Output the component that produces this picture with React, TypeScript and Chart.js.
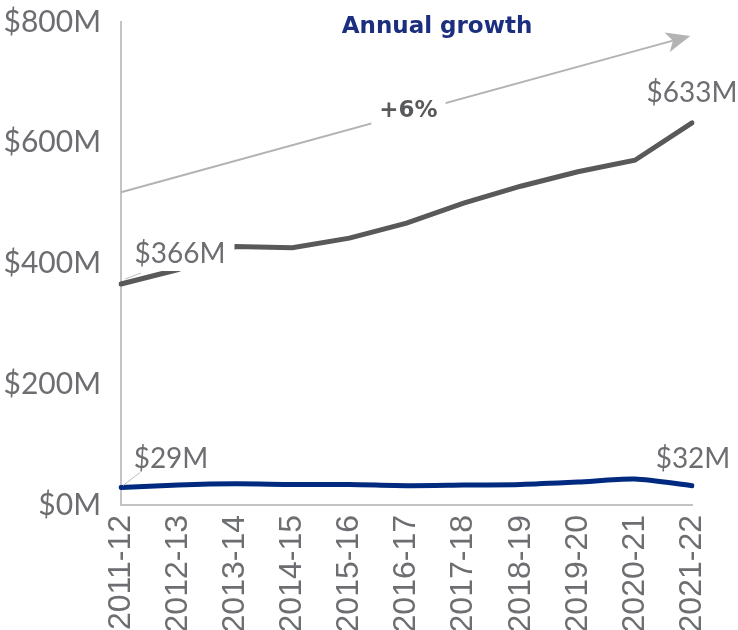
import React, { useEffect, useRef } from "react";
import { Chart, registerables } from "chart.js";

Chart.register(...registerables);

const categories = ["2011-12", "2012-13", "2013-14", "2014-15", "2015-16", "2016-17", "2017-18", "2018-19", "2019-20", "2020-21", "2021-22"];
const totalSpend = [366, 390, 428, 426, 442, 467, 500, 528, 552, 571, 633];
const otherSpend = [29, 33, 35, 34, 34, 32, 33, 34, 38, 43, 32];
const yTicks = [0, 200, 400, 600, 800];
const growthLabel = "+6%";
const titleText = "Annual growth";
const arrowFrom = { index: 0, value: 518 };
const arrowTo = { index: 9.97, value: 777 };

const GREY_TEXT = "#6d6e71";

const annotationPlugin = {
  id: "annot",
  afterDatasetsDraw(chart: any) {
    const ctx = chart.ctx as CanvasRenderingContext2D;
    const xs = chart.scales.x;
    const ys = chart.scales.y;
    const px = (i: number) => xs.getPixelForValue(i);
    const py = (v: number) => ys.getPixelForValue(v);
    ctx.save();

    // growth arrow
    const x0 = px(arrowFrom.index), y0 = py(arrowFrom.value);
    const x1 = px(arrowTo.index), y1 = py(arrowTo.value);
    const ang = Math.atan2(y1 - y0, x1 - x0);
    const headLen = 24, headW = 10;
    const bx = x1 - headLen * Math.cos(ang), by = y1 - headLen * Math.sin(ang);
    ctx.strokeStyle = "#b3b3b3";
    ctx.lineWidth = 2;
    ctx.beginPath();
    ctx.moveTo(x0, y0);
    ctx.lineTo(bx + 6 * Math.cos(ang), by + 6 * Math.sin(ang));
    ctx.stroke();
    ctx.fillStyle = "#b3b3b3";
    ctx.beginPath();
    ctx.moveTo(x1, y1);
    ctx.lineTo(bx + headW * Math.sin(ang), by - headW * Math.cos(ang));
    ctx.lineTo(bx + 6 * Math.cos(ang), by + 6 * Math.sin(ang));
    ctx.lineTo(bx - headW * Math.sin(ang), by + headW * Math.cos(ang));
    ctx.closePath();
    ctx.fill();

    // +6% label on arrow
    const mx = x0 + (x1 - x0) * 0.505, my = y0 + (y1 - y0) * 0.505 - 2;
    ctx.font = "bold 23px 'DejaVu Sans'";
    ctx.textAlign = "center";
    ctx.textBaseline = "middle";
    const gw = ctx.measureText(growthLabel).width;
    ctx.fillStyle = "#ffffff";
    ctx.fillRect(mx - gw / 2 - 8, my - 14, gw + 16, 28);
    ctx.fillStyle = "#58595b";
    ctx.fillText(growthLabel, mx, my);

    // title
    ctx.font = "bold 23px 'DejaVu Sans'";
    ctx.fillStyle = "#1b2f7e";
    ctx.fillText(titleText, 437, 27);

    // data labels
    const meta0 = chart.getDatasetMeta(0).data;
    const meta1 = chart.getDatasetMeta(1).data;
    const last = categories.length - 1;
    ctx.font = "28px Lato";
    const drawLabel = (text: string, x: number, y: number, box: boolean) => {
      if (box) {
        const w = ctx.measureText(text).width;
        ctx.fillStyle = "#ffffff";
        ctx.fillRect(x - w / 2 - 9, y - 17, w + 18, 34);
      }
      ctx.fillStyle = GREY_TEXT;
      ctx.fillText(text, x, y);
    };
    drawLabel("$" + totalSpend[0] + "M", meta0[0].x + 59, meta0[0].y - 30, true);
    drawLabel("$" + totalSpend[last] + "M", meta0[last].x, meta0[last].y - 30, true);

    // leader lines
    ctx.strokeStyle = "#bdbdbd";
    ctx.lineWidth = 1;
    ctx.beginPath();
    ctx.moveTo(meta1[0].x + 2, meta1[0].y - 2);
    ctx.lineTo(meta1[0].x + 19, meta1[0].y - 15);
    ctx.stroke();
    ctx.beginPath();
    ctx.moveTo(meta0[0].x + 4, meta0[0].y - 5);
    ctx.lineTo(meta0[0].x + 20, meta0[0].y - 11);
    ctx.stroke();
    drawLabel("$" + otherSpend[0] + "M", meta1[0].x + 50, meta1[0].y - 29, false);
    drawLabel("$" + otherSpend[last] + "M", meta1[last].x + 1, meta1[last].y - 27, false);
    ctx.restore();
  },
};

export default function App() {
  const ref = useRef<HTMLCanvasElement | null>(null);
  useEffect(() => {
    document.body.style.margin = "0";
    const chart = new Chart(ref.current as HTMLCanvasElement, {
      type: "line",
      data: {
        labels: categories,
        datasets: [
          {
            data: totalSpend,
            borderColor: "#595959",
            borderWidth: 5,
            pointRadius: 0,
            tension: 0,
            borderCapStyle: "round",
          },
          {
            data: otherSpend,
            borderColor: "#002a7f",
            borderWidth: 5,
            pointRadius: 0,
            tension: 0.25,
            borderCapStyle: "round",
          },
        ],
      },
      options: {
        responsive: false,
        animation: false,
        layout: { padding: { top: 22, right: 46, left: 0, bottom: 0 } },
        plugins: { legend: { display: false }, tooltip: { enabled: false }, title: { display: false } },
        scales: {
          x: {
            type: "category",
            offset: false,
            grid: { display: false, drawTicks: false },
            border: { display: true, color: "#c4c4c4", width: 2 },
            ticks: {
              color: GREY_TEXT,
              font: { family: "'Liberation Sans'", size: 32 },
              minRotation: 90,
              maxRotation: 90,
              padding: 10,
              autoSkip: false,
            },
            afterFit: (s: any) => { s.height = 125; s.paddingLeft = 0; s.paddingRight = 0; },
          },
          y: {
            min: 0,
            max: 800,
            afterBuildTicks: (s: any) => { s.ticks = yTicks.map((v) => ({ value: v })); },
            grid: { display: false, drawTicks: false },
            border: { display: true, color: "#c4c4c4", width: 2 },
            ticks: {
              color: GREY_TEXT,
              font: { family: "Lato", size: 30 },
              padding: 20,
              callback: (v: any) => "$" + v + "M",
            },
            afterFit: (s: any) => { s.width = 121; s.paddingTop = 0; s.paddingBottom = 0; },
          },
        },
      },
      plugins: [annotationPlugin],
    });
    return () => chart.destroy();
  }, []);
  return <canvas ref={ref} width={738} height={630} style={{ display: "block" }} />;
}
